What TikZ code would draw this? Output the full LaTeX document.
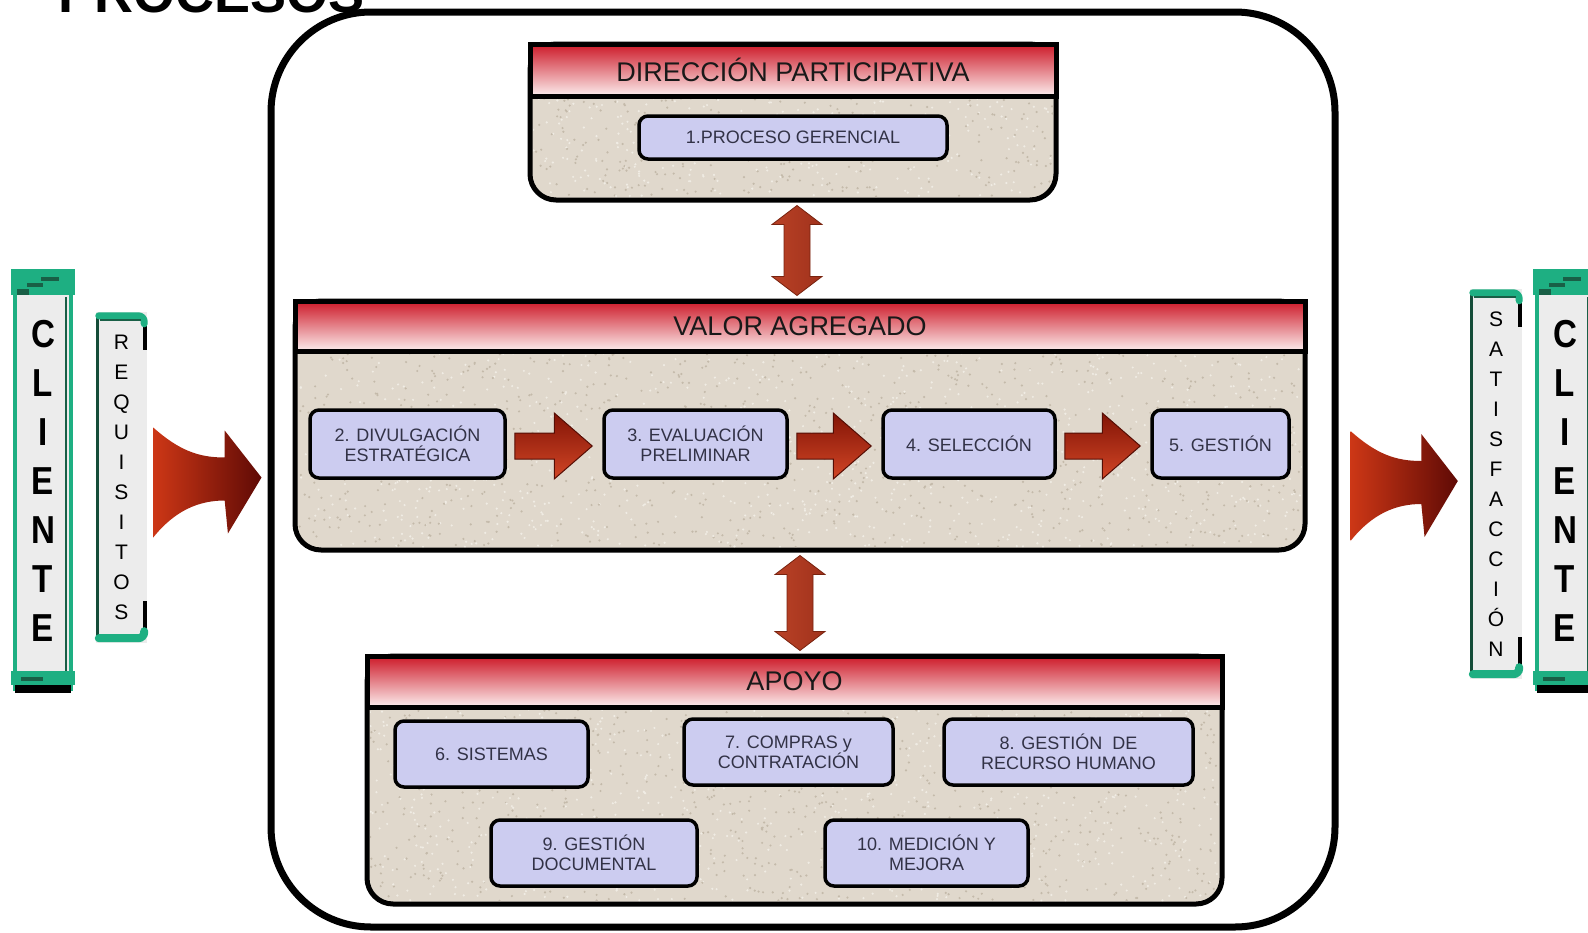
\documentclass[tikz,border=0pt]{standalone}
\usepackage{fontspec}
\setmainfont{Liberation Sans}
\newfontfamily\narrowsans[FakeStretch=0.85]{Liberation Sans}
\usetikzlibrary{calc}

\definecolor{sand}{RGB}{224,216,204}
\definecolor{graindark}{RGB}{196,186,170}
\definecolor{grainlight}{RGB}{240,236,228}
\definecolor{lav}{RGB}{204,204,240}
\definecolor{hdrred}{RGB}{205,25,40}
\definecolor{hdrmid}{RGB}{240,150,155}
\definecolor{hdrpale}{RGB}{252,238,238}
\definecolor{teal1}{RGB}{30,175,130}
\definecolor{teal2}{RGB}{25,95,70}
\definecolor{boxtxt}{RGB}{50,50,70}
\definecolor{sidegray}{RGB}{236,236,236}

\tikzset{
  areabody/.style={fill=sand, draw=black, line width=5, rounded corners=26, inner sep=0},
  areahead/.style={draw=black, line width=5, top color=hdrred, middle color=hdrmid,
    bottom color=hdrpale, inner sep=0, font=\fontsize{27}{30}\selectfont, text=black!90},
  proc/.style={draw=black, line width=3.5, fill=lav, rounded corners=9, align=center,
    font=\fontsize{18}{20}\selectfont, text=boxtxt, inner sep=0},
  blockarrow/.style={top color={rgb,255:red,130;green,20;blue,6},
    bottom color={rgb,255:red,210;green,70;blue,38}, draw={rgb,255:red,85;green,14;blue,5}, line width=1},
  vertarrow/.style={left color={rgb,255:red,185;green,65;blue,38},
    middle color={rgb,255:red,232;green,118;blue,82}, right color={rgb,255:red,160;green,50;blue,28},
    draw={rgb,255:red,120;green,35;blue,15}, line width=0.8},
  fatarrow/.style={left color={rgb,255:red,205;green,55;blue,22}, right color={rgb,255:red,95;green,10;blue,5}},
  clientebox/.style={fill=sidegray, draw=teal1, line width=4, inner sep=0, align=center,
    font=\narrowsans\bfseries\fontsize{39}{49}\selectfont},
  tagbox/.style={fill=sidegray, inner sep=0, align=center, font=\fontsize{21}{30}\selectfont},
}

% speckled texture inside an area: x0, y0, width, height, count
\newcommand\grain[5]{%
  \foreach \k in {1,...,#5}{%
    \pgfmathsetmacro\gx{#1+#3*rnd}\pgfmathsetmacro\gy{#2+#4*rnd}%
    \fill[graindark] (\gx,\gy) circle (1.2);
    \pgfmathsetmacro\gx{#1+#3*rnd}\pgfmathsetmacro\gy{#2+#4*rnd}%
    \fill[grainlight] (\gx,\gy) circle (1.2);}}

% horizontal block arrow between two process boxes
\newcommand\flowarrow[2]{%
  \coordinate (fa-s) at ($(#1.east)+(8,2)$);
  \coordinate (fa-e) at ($(#2.west)+(-10,2)$);
  \path[blockarrow] ($(fa-s)+(0,-13)$) -- ($(fa-e)+(-38,-13)$) -- ($(fa-e)+(-38,-33)$) -- (fa-e)
    -- ($(fa-e)+(-38,33)$) -- ($(fa-e)+(-38,13)$) -- ($(fa-s)+(0,13)$) -- cycle;}

% vertical two-headed arrow from a top point to a bottom point
\newcommand\duplex[2]{%
  \path[vertarrow] (#1) -- ($(#1)+(25,19)$) -- ($(#1)+(13,19)$) -- ($(#2)+(13,-19)$)
    -- ($(#2)+(25,-19)$) -- (#2) -- ($(#2)+(-25,-19)$) -- ($(#2)+(-13,-19)$)
    -- ($(#1)+(-13,19)$) -- ($(#1)+(-25,19)$) -- cycle;}

% curved fat arrow from a tail point to a tip
\newcommand\fatarrow[2]{%
  \path[fatarrow] ($(#1)+(0,-50)$) .. controls ($(#1)!.24!(#2)+(0,-27)$) and ($(#1)!.42!(#2)+(0,-20)$)
    .. ($(#1)!.66!(#2)+(0,-20)$) -- ($(#1)!.66!(#2)+(0,-47)$) -- (#2) -- ($(#1)!.69!(#2)+(0,56)$)
    -- ($(#1)!.66!(#2)+(0,23)$) .. controls ($(#1)!.42!(#2)+(0,23)$) and ($(#1)!.2!(#2)+(0,33)$)
    .. ($(#1)+(0,60)$) -- cycle;}

% side banner trim
\newcommand\clientetrim[1]{%
  \fill[teal1] ($(#1.north west)+(-2,-2)$) rectangle ($(#1.north east)+(2,24)$);
  \fill[teal2] ($(#1.north west)+(4,18)$) rectangle ($(#1.north west)+(16,24)$);
  \fill[teal2] ($(#1.north west)+(14,12)$) rectangle ($(#1.north west)+(30,16)$);
  \fill[teal2] ($(#1.north west)+(28,6)$) rectangle ($(#1.north west)+(46,10)$);
  \fill[sidegray] ($(#1.north west)+(6,26)$) rectangle ($(#1.north east)+(-6,30)$);
  \draw[teal2, line width=1.5] ($(#1.north east)+(-7,26)$) -- ($(#1.south east)+(-7,-20)$);
  \fill[teal1] ($(#1.south west)+(-2,-20)$) rectangle ($(#1.south east)+(2,-6)$);
  \fill[teal2] ($(#1.south west)+(8,-14)$) rectangle ($(#1.south west)+(30,-10)$);
  \fill[black] ($(#1.south west)+(2,-6)$) rectangle ($(#1.south east)+(-2,2)$);}

% bracket trim for the small side tags
\newcommand\tagtrim[1]{%
  \draw[teal2!80!black, line width=3] ($(#1.north west)+(2,4)$) -- ($(#1.south west)+(2,-4)$);
  \draw[black, line width=4] ($(#1.north east)+(-2,14)$) -- ($(#1.north east)+(-2,38)$);
  \draw[black, line width=4] ($(#1.south east)+(-2,-14)$) -- ($(#1.south east)+(-2,-42)$);
  \draw[teal1, line width=7, line cap=round, rounded corners=6] ($(#1.north west)+(3,4)$) -- ($(#1.north east)+(-3,4)$) -- ($(#1.north east)+(-3,12)$);
  \draw[teal2, line width=2] ($(#1.north west)+(4,8)$) -- ($(#1.north east)+(-6,8)$);
  \draw[teal1, line width=8, line cap=round, rounded corners=6] ($(#1.south west)+(3,-5)$) -- ($(#1.south east)+(-3,-5)$) -- ($(#1.south east)+(-3,-12)$);}

\begin{document}
\begin{tikzpicture}[x=1pt,y=-1pt]
\pgfmathsetseed{4242}
\useasboundingbox (0,0) rectangle (1588,932);
\fill[white] (0,0) rectangle (1588,932);
\clip (0,0) rectangle (1588,932);

% title, partly above the page edge
\node[anchor=base west, inner sep=0, font=\bfseries\fontsize{54}{60}\selectfont] (title) at (58,12) {PROCESOS};

% enclosing frame
\node[draw=black, line width=7, rounded corners=100, minimum width=1064, minimum height=915, inner sep=0] (outer) at (803,469.5) {};

% management area
\node[areabody, minimum width=526, minimum height=156] (dir) at (793,122) {};
\begin{scope}
  \clip[rounded corners=23] (533,47) rectangle (1053,197);
  \grain{533}{96}{520}{101}{260}
\end{scope}
\node[areahead, minimum width=526, minimum height=52, anchor=north] (dirhead) at (dir.north) {DIRECCIÓN PARTICIPATIVA};
\node[proc, minimum width=308, minimum height=43] (p1) at (793,137.5) {1.PROCESO GERENCIAL};

% value chain area
\node[areabody, minimum width=1010, minimum height=249] (val) at (800,425.5) {};
\begin{scope}
  \clip[rounded corners=23] (298,304) rectangle (1302,547);
  \grain{298}{350}{1004}{197}{900}
\end{scope}
\node[areahead, minimum width=1010, minimum height=50, anchor=north] (valhead) at (val.north) {VALOR AGREGADO};
\node[proc, minimum width=195, minimum height=68] (p2) at (407.5,444) {2. DIVULGACIÓN\\ESTRATÉGICA};
\node[proc, minimum width=183, minimum height=68] (p3) at (695.5,444) {3. EVALUACIÓN\\PRELIMINAR};
\node[proc, minimum width=172, minimum height=68] (p4) at (969,444) {4. SELECCIÓN};
\node[proc, minimum width=137, minimum height=68] (p5) at (1220.5,444) {5. GESTIÓN};

% support area
\node[areabody, minimum width=855, minimum height=248] (apo) at (794.5,780) {};
\begin{scope}
  \clip[rounded corners=23] (370,659) rectangle (1219,901);
  \grain{370}{706}{849}{195}{760}
\end{scope}
\node[areahead, minimum width=855, minimum height=51, anchor=north] (apohead) at (apo.north) {APOYO};
\node[proc, minimum width=193, minimum height=66] (p6) at (491.5,754) {6. SISTEMAS};
\node[proc, minimum width=209, minimum height=66] (p7) at (788.5,752) {7. COMPRAS y\\CONTRATACIÓN};
\node[proc, minimum width=249, minimum height=66] (p8) at (1068.5,752) {8. GESTIÓN \ DE\\RECURSO HUMANO};
\node[proc, minimum width=206, minimum height=66] (p9) at (594,853) {9. GESTIÓN\\DOCUMENTAL};
\node[proc, minimum width=203, minimum height=66] (p10) at (926.5,853) {10. MEDICIÓN Y\\MEJORA};

% flow inside the value chain
\flowarrow{p2}{p3}
\flowarrow{p3}{p4}
\flowarrow{p4}{p5}

% links between areas
\coordinate (u1) at ($(dir.south)+(4,3)$);
\coordinate (u2) at ($(u1 |- val.north)+(0,-3)$);
\duplex{u1}{u2}
\coordinate (d1) at ($(val.south)+(0,3)$);
\coordinate (d2) at ($(d1 |- apo.north)+(0,-3)$);
\duplex{d1}{d2}

% customer side, input
\node[clientebox, minimum width=56, minimum height=416] (cl1) at (43,481) {C\\L\\I\\E\\N\\T\\E};
\clientetrim{cl1}
\node[tagbox, minimum width=51, minimum height=331] (req) at (121.5,477.5) {R\\E\\Q\\U\\I\\S\\I\\T\\O\\S};
\tagtrim{req}
\coordinate (fl-s) at ($(req.east)+(6,0)$);
\coordinate (fl-e) at ($(req.east -| outer.west)+(-6,0)$);
\fatarrow{fl-s}{fl-e}

% customer side, output
\node[tagbox, minimum width=52, minimum height=390] (sat) at (1496,484) {S\\A\\T\\I\\S\\F\\A\\C\\C\\I\\Ó\\N};
\tagtrim{sat}
\node[clientebox, minimum width=56, minimum height=416] (cl2) at (1565,481) {C\\L\\I\\E\\N\\T\\E};
\clientetrim{cl2}
\coordinate (fr-s) at ($(sat.west -| outer.east)+(12,-3)$);
\coordinate (fr-e) at ($(sat.west)+(-12,-3)$);
\fatarrow{fr-s}{fr-e}
\end{tikzpicture}
\end{document}
